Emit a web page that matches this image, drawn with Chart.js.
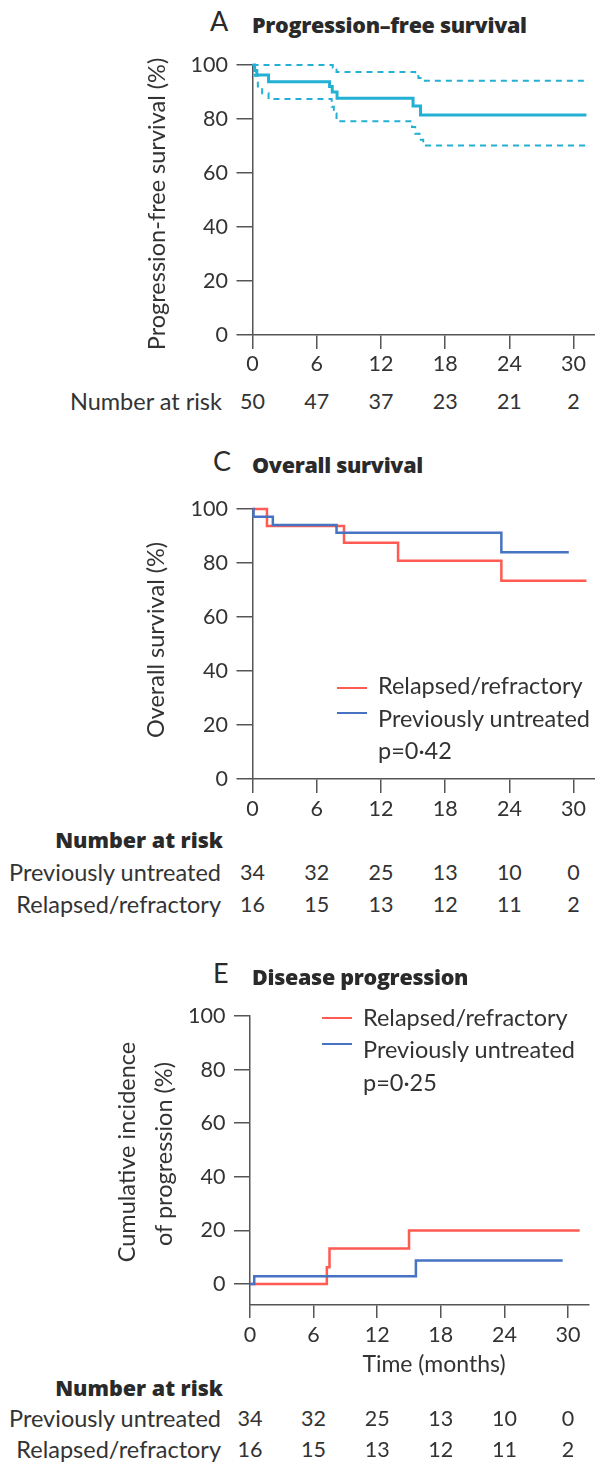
<!DOCTYPE html>
<html><head><meta charset="utf-8">
<script src="https://cdn.jsdelivr.net/npm/chart.js@4.4.1/dist/chart.umd.min.js"></script>
<style>
html,body{margin:0;padding:0;background:#fff}
body{width:595px;height:1463px;position:relative;overflow:hidden;font-family:Lato,"Open Sans",sans-serif;color:#333}
canvas{position:absolute;left:0}
.t{position:absolute;white-space:nowrap}
.ln{position:absolute;height:2px}
</style></head>
<body>
<canvas id="cA" width="595" height="340" style="top:40px"></canvas>
<canvas id="cC" width="595" height="340" style="top:480px"></canvas>
<canvas id="cE" width="595" height="360" style="top:990px"></canvas>
<script>
// ---------- data ----------
const xTicks = [0, 6, 12, 18, 24, 30];
const yTicks = [0, 20, 40, 60, 80, 100];

// Panel A: progression-free survival (months, %)
const pfsTime  = [0, 0.2, 0.4, 1.5, 7.2, 7.45, 7.9, 15.0, 15.7, 31.2];
const pfsValue = [100, 98, 96.3, 93.8, 92, 90, 87.7, 84.8, 81.5, 81.5];
const pfsUpperTime  = [0, 7.5, 7.7, 7.85, 15.2, 15.5, 15.8, 31.2];
const pfsUpperValue = [100, 99, 98.2, 97.4, 96.3, 95.2, 94.2, 94.2];
const pfsLowerTime  = [0, 0.2, 0.5, 0.9, 1.5, 7.4, 7.6, 7.85, 14.9, 15.2, 15.6, 15.95, 31.2];
const pfsLowerValue = [100, 96, 92, 89.5, 87.4, 84.5, 82, 79.2, 77, 74.5, 72.3, 70.2, 70.2];
const riskAll = [50, 47, 37, 23, 21, 2];

// Panel C: overall survival
const osRelapsedTime  = [0, 1.35, 8.55, 13.6, 23.25, 31.2];
const osRelapsedValue = [100, 93.75, 87.5, 80.8, 73.4, 73.4];
const osUntreatedTime  = [0, 0.1, 1.9, 7.85, 23.25, 29.55];
const osUntreatedValue = [100, 97.1, 94.1, 91.2, 84, 84];

// Panel E: cumulative incidence of progression
const cpRelapsedTime  = [0, 7.25, 7.5, 15.0, 31.1];
const cpRelapsedValue = [0, 6.25, 13.3, 20, 20];
const cpUntreatedTime  = [0, 0.4, 15.65, 29.5];
const cpUntreatedValue = [0, 2.9, 8.8, 8.8];

const riskUntreated = [34, 32, 25, 13, 10, 0];
const riskRelapsed  = [16, 15, 13, 12, 11, 2];

// ---------- styles ----------
const TEAL = '#23B0D4', RED = '#FF5B52', BLUE = '#4673C2', AXIS = '#555';
const TXT = '#333';

function pts(t, v){ return t.map((x,i)=>({x:x, y:v[i]})); }

function makeChart(id, o){
  const ctx = document.getElementById(id);
  const H = ctx.height;
  return new Chart(ctx, {
    type: 'line',
    data: { datasets: o.datasets.map(d => Object.assign({
      pointRadius: 0, stepped: 'before', fill: false, clip: false, tension: 0
    }, d)) },
    options: {
      responsive: false, animation: false, events: [],
      layout: { padding: { left: 0, top: o.plotTop - o.canvasTop, right: 595 - o.plotRight, bottom: 0 } },
      plugins: { legend: { display: false }, tooltip: { enabled: false } },
      scales: {
        x: {
          type: 'linear', min: 0, max: o.xMax,
          afterBuildTicks: s => { s.ticks = xTicks.map(v => ({value: v})); },
          afterFit: s => { s.height = H - (o.plotBottom - o.canvasTop); },
          grid: { drawOnChartArea: false, color: AXIS, lineWidth: 1.5, tickLength: o.xTick, tickWidth: 1.5, tickColor: AXIS },
          border: { display: true, color: AXIS, width: 1.5 },
          ticks: { font: { family: 'Lato', size: 21.5 }, color: TXT, padding: o.xPad, maxRotation: 0, autoSkip: false }
        },
        y: {
          type: 'linear', min: o.yMin, max: 100,
          afterBuildTicks: s => { s.ticks = yTicks.map(v => ({value: v})); },
          afterFit: s => { s.width = o.plotLeft; },
          grid: { drawOnChartArea: false, color: AXIS, lineWidth: 1.5, tickLength: 16, tickWidth: 1.5, tickColor: AXIS },
          border: { display: true, color: AXIS, width: 1.5 },
          ticks: { font: { family: 'Lato', size: 21.5 }, color: TXT, padding: 8.5 }
        }
      }
    }
  });
}

const chA = makeChart('cA', {
  canvasTop: 40, plotTop: 65, plotBottom: 335, plotLeft: 252.5, plotRight: 595, xMax: 32, yMin: 0, xTick: 14, xPad: 2,
  datasets: [
    { data: pts(pfsTime, pfsValue), borderColor: TEAL, borderWidth: 3 },
    { data: pts(pfsUpperTime, pfsUpperValue), borderColor: TEAL, borderWidth: 2, borderDash: [6, 5] },
    { data: pts(pfsLowerTime, pfsLowerValue), borderColor: TEAL, borderWidth: 2, borderDash: [6, 5] }
  ]
});
const chC = makeChart('cC', {
  canvasTop: 480, plotTop: 509, plotBottom: 779, plotLeft: 252.5, plotRight: 595, xMax: 32, yMin: 0, xTick: 14, xPad: 3,
  datasets: [
    { data: pts(osUntreatedTime, osUntreatedValue), borderColor: BLUE, borderWidth: 2.5 },
    { data: pts(osRelapsedTime, osRelapsedValue), borderColor: RED, borderWidth: 2.5 }
  ]
});
const chE = makeChart('cE', {
  canvasTop: 990, plotTop: 1016, plotBottom: 1305, plotLeft: 250, plotRight: 589.2, xMax: 32, yMin: -7.8, xTick: 13, xPad: 4.5,
  datasets: [
    { data: pts(cpUntreatedTime, cpUntreatedValue), borderColor: BLUE, borderWidth: 2.5 },
    { data: pts(cpRelapsedTime, cpRelapsedValue), borderColor: RED, borderWidth: 2.5 }
  ]
});

// ---------- text ----------
const ASC = 0.988;
function txt(s, x, base, size, o){
  o = o || {};
  const d = document.createElement('div');
  d.className = 't';
  d.textContent = s;
  d.style.fontSize = size + 'px';
  d.style.lineHeight = (size * 1.2) + 'px';
  d.style.top = (base - size * ASC) + 'px';
  d.style.fontFamily = o.family || 'Lato';
  d.style.fontWeight = o.weight || 400;
  d.style.color = o.color || TXT;
  if (o.ls) d.style.letterSpacing = o.ls + 'px';
  if (o.align === 'right') d.style.right = (595 - x) + 'px';
  else if (o.align === 'center') { d.style.left = x + 'px'; d.style.transform = 'translateX(-50%)'; }
  else d.style.left = x + 'px';
  document.body.appendChild(d);
  return d;
}
function vtxt(s, cx, cy, size){
  const d = document.createElement('div');
  d.className = 't';
  d.textContent = s;
  d.style.fontSize = size + 'px';
  d.style.lineHeight = size + 'px';
  d.style.left = cx + 'px';
  d.style.top = cy + 'px';
  d.style.color = TXT;
  d.style.transform = 'translate(-50%,-50%) rotate(-90deg)';
  document.body.appendChild(d);
}
function line(x1, x2, y, color){
  const d = document.createElement('div');
  d.className = 'ln';
  d.style.left = x1 + 'px'; d.style.width = (x2 - x1) + 'px';
  d.style.top = (y - 1) + 'px'; d.style.background = color;
  document.body.appendChild(d);
}
function riskRow(chart, vals, base){
  vals.forEach((v, i) => txt(String(v), chart.scales.x.getPixelForValue(xTicks[i]), base, 21.5, {align: 'center'}));
}
const BOLD = {family: '"Open Sans"', weight: 800, color: '#2a2a2a'};

// Panel A
txt('A', 210, 32, 27, {color: '#2a2a2a'});
txt('Progression\u2013free survival', 252, 33, 21.5, Object.assign({ls: -0.3}, BOLD));
vtxt('Progression-free survival (%)', 157, 204, 23.5);
txt('Number at risk', 222, 410, 23.5, {align: 'right'});
riskRow(chA, riskAll, 410);

// Panel C
txt('C', 213, 472, 27, {color: '#2a2a2a'});
txt('Overall survival', 252, 473, 21.5, Object.assign({ls: -0.3}, BOLD));
vtxt('Overall survival (%)', 156, 640, 23.5);
line(337, 367, 688, RED);
line(337, 367, 713, BLUE);
txt('Relapsed/refractory', 378, 694, 23.5);
txt('Previously untreated', 378, 727, 23.5);
txt('p=0\u00b742', 378, 759, 23.5);
txt('Number at risk', 223, 848, 21.5, Object.assign({align: 'right'}, BOLD));
txt('Previously untreated', 221, 881, 23.5, {align: 'right'});
txt('Relapsed/refractory', 221, 913, 23.5, {align: 'right'});
riskRow(chC, riskUntreated, 881);
riskRow(chC, riskRelapsed, 913);

// Panel E
txt('E', 213, 984, 27, {color: '#2a2a2a'});
txt('Disease progression', 252, 985, 21.5, Object.assign({ls: -0.3}, BOLD));
vtxt('Cumulative incidence', 127, 1152, 23.5);
vtxt('of progression (%)', 164, 1154, 23.5);
line(322, 352, 1018, RED);
line(322, 352, 1044, BLUE);
txt('Relapsed/refractory', 363, 1026, 23.5);
txt('Previously untreated', 363, 1058, 23.5);
txt('p=0\u00b725', 363, 1091, 23.5);
txt('Time (months)', 434, 1373, 23, {align: 'center'});
txt('Number at risk', 223, 1396, 21.5, Object.assign({align: 'right'}, BOLD));
txt('Previously untreated', 221, 1427, 23.5, {align: 'right'});
txt('Relapsed/refractory', 221, 1458, 23.5, {align: 'right'});
riskRow(chE, riskUntreated, 1427);
riskRow(chE, riskRelapsed, 1458);
</script>
</body></html>
